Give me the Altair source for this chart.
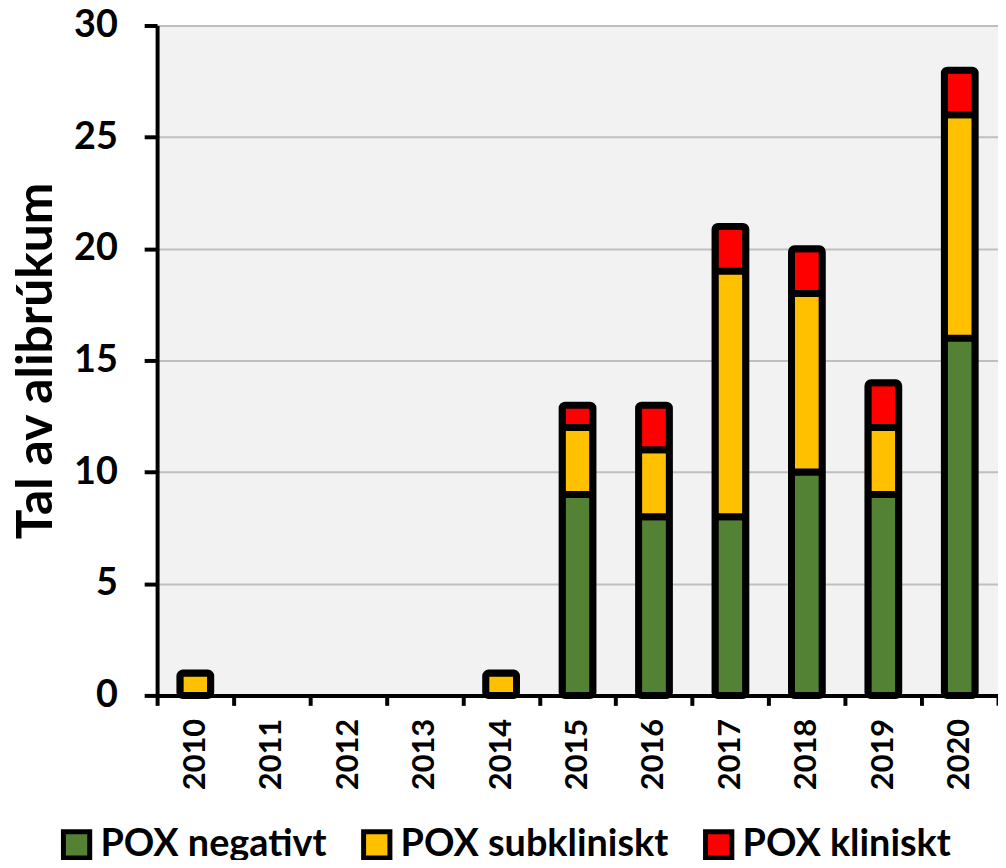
import altair as alt
import pandas as pd

years = ["2010", "2011", "2012", "2013", "2014", "2015", "2016", "2017", "2018", "2019", "2020"]
series = ["POX negativt", "POX subkliniskt", "POX kliniskt"]
pox_negativt = [0, 0, 0, 0, 0, 9, 8, 8, 10, 9, 16]
pox_subkliniskt = [1, 0, 0, 0, 1, 3, 3, 11, 8, 3, 10]
pox_kliniskt = [0, 0, 0, 0, 0, 1, 2, 2, 2, 2, 2]
colors = ["#548235", "#FFC000", "#FF0000"]

rows = []
for i, y in enumerate(years):
    for k, (s, vals) in enumerate(zip(series, [pox_negativt, pox_subkliniskt, pox_kliniskt])):
        rows.append({"year": y, "series": s, "order": k, "value": vals[i]})
df = pd.DataFrame(rows)

FONT = "Lato"

chart = (
    alt.Chart(df)
    .transform_filter("datum.value > 0")
    .mark_bar(size=31, stroke="black", strokeWidth=7, cornerRadius=3, strokeJoin="round")
    .encode(
        x=alt.X(
            "year:N",
            scale=alt.Scale(domain=years, paddingInner=0, paddingOuter=0),
            axis=alt.Axis(
                title=None,
                labelAngle=-90,
                labelAlign="right",
                labelBaseline="middle",
                labelFontSize=31,
                labelFontWeight="bold",
                labelFont=FONT,
                labelColor="black",
                labelPadding=13,
                domainColor="black",
                domainWidth=4,
                tickColor="black",
                tickWidth=4,
                tickSize=10,
                tickBand="extent",
                grid=False,
            ),
        ),
        y=alt.Y(
            "value:Q",
            stack="zero",
            scale=alt.Scale(domain=[0, 30], nice=False),
            axis=alt.Axis(
                title="Tal av alibrúkum",
                titleFont=FONT,
                titleFontSize=50,
                titleFontWeight="bold",
                titleColor="black",
                titlePadding=12,
                values=[0, 5, 10, 15, 20, 25, 30],
                labelFont=FONT,
                labelFontSize=38,
                labelFontWeight="bold",
                labelColor="black",
                labelPadding=27,
                domainColor="black",
                domainWidth=4,
                tickColor="black",
                tickWidth=4,
                tickSize=13,
                gridColor="#bfbfbf",
                gridWidth=2,
            ),
        ),
        color=alt.Color(
            "series:N",
            scale=alt.Scale(domain=series, range=colors),
            legend=alt.Legend(
                title=None,
                orient="none",
                direction="horizontal",
                legendX=-100,
                legendY=805,
                symbolType="square",
                symbolSize=700,
                symbolStrokeColor="black",
                symbolStrokeWidth=5,
                symbolOpacity=1,
                labelFont=FONT,
                labelFontSize=38,
                labelFontWeight="bold",
                labelColor="black",
                labelOffset=5,
                columnPadding=26,
                labelLimit=400,
            ),
        ),
        order=alt.Order("order:Q"),
    )
    .properties(
        width=846,
        height=674,
        autosize=alt.AutoSizeParams(type="none"),
        padding={"left": 150, "top": 15, "right": 0, "bottom": 163},
    )
    .configure_view(fill="#f2f2f2", stroke=None)
)

chart.save("out.html", embed_options={"renderer": "svg", "actions": False})
